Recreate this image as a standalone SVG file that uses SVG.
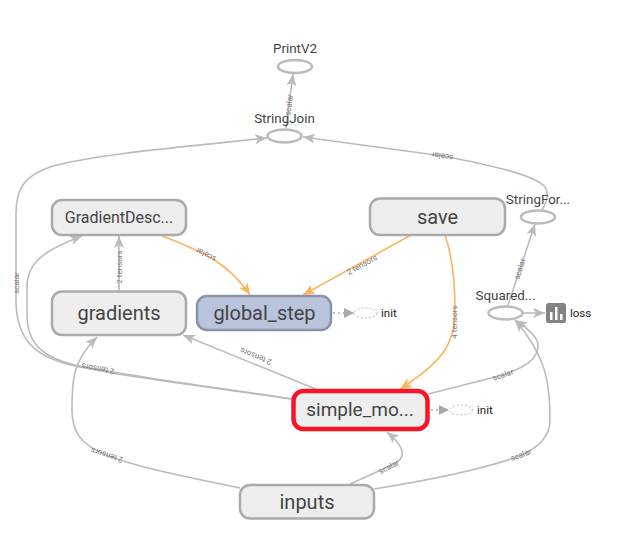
<svg xmlns="http://www.w3.org/2000/svg" width="631" height="541" viewBox="0 0 631 541">
<style>
text{font-family:Roboto,"Liberation Sans",sans-serif;fill:#444}
.box{fill:#eee;stroke:#aaa;stroke-width:2.5}
.op{fill:#fff;stroke:#bbb;stroke-width:2.5}
.e{fill:none;stroke:#bbb;stroke-width:1.6}
.o{fill:none;stroke:#fdb45c;stroke-width:1.6}
.d{fill:none;stroke:#aaa;stroke-width:1.6;stroke-dasharray:2 3}
.l{font-size:8px;fill:#777;text-anchor:middle;dominant-baseline:central}
.t{text-anchor:middle}
.s{font-size:13.400px}
.m{font-size:16px}
.b{font-size:20px}
.i{font-size:11.500px;fill:#222}
.g{fill:#fff;stroke:#bbb;stroke-width:1;stroke-dasharray:2 2}
</style>
<defs>
<marker id="ag" markerWidth="14" markerHeight="12" refX="12" refY="5" orient="auto" markerUnits="userSpaceOnUse" viewBox="0 0 14 10"><path d="M0 0L12 5L0 10L3 5Z" fill="#bbb"/></marker>
<marker id="ao" markerWidth="14" markerHeight="12" refX="12" refY="5" orient="auto" markerUnits="userSpaceOnUse" viewBox="0 0 14 10"><path d="M0 0L12 5L0 10L3 5Z" fill="#fdb45c"/></marker>
<marker id="ad" markerWidth="11" markerHeight="10" refX="10" refY="5" orient="auto" markerUnits="userSpaceOnUse" viewBox="0 0 11 10"><path d="M0 0L10 5L0 10Z" fill="#aaa"/></marker>
</defs>
<g id="connectors">
<path class="e" marker-end="url(#ag)" d="M286 128L293 74"/>
<path class="e" marker-end="url(#ag)" d="M292 399C200 386 120 376 75 366C35 357 16 340 16 300L16 213C16 185 28 175 50 167C90 155 170 148 267 138"/>
<path class="e" marker-end="url(#ag)" d="M292 399C200 385 120 375 75 365C45 358 27 345 27 315L27 287C27 262 45 250 82 236"/>
<path class="e" marker-end="url(#ag)" d="M318 390L183 335"/>
<path class="e" marker-end="url(#ag)" d="M240 488C200 479 160 473 120 460C90 450 72 440 72 410C72 380 72 362 97 337"/>
<path class="e" marker-end="url(#ag)" d="M350 484C368 476 382 470 397 462C406 456 404 446 387 432"/>
<path class="e" marker-end="url(#ag)" d="M374 489C430 480 480 470 517 457C540 448 550 435 550 420C550 380 545 355 515 320"/>
<path class="e" marker-end="url(#ag)" d="M428 394L503 375C525 367 538 360 538 345C538 338 530 330 515 320"/>
<path class="e" marker-end="url(#ag)" d="M508 305L535 224"/>
<path class="e" marker-end="url(#ag)" d="M542 210C548 200 549 193 545 187C535 175 490 165 443 156L303 137"/>
<path class="e" marker-end="url(#ag)" d="M119 291L119 236"/>
<path class="o" marker-end="url(#ao)" d="M162 236C205 252 230 265 250 295"/>
<path class="o" marker-end="url(#ao)" d="M411 235L303 295"/>
<path class="o" marker-end="url(#ao)" d="M445 235C453 258 455 285 455 310C455 345 442 362 400 389"/>
<path class="e" marker-end="url(#ag)" d="M523 313L545 313"/>
<path class="d" marker-end="url(#ad)" d="M333 313L354 313"/>
<path class="d" marker-end="url(#ad)" d="M431 410L449 410"/>
<text class="l" transform="translate(289 105) rotate(-83)">scalar</text>
<text class="l" transform="translate(442.500 156) rotate(189)">scalar</text>
<text class="l" transform="translate(16 283) rotate(-90)">scalar</text>
<text class="l" transform="translate(98 368.500) rotate(190)">2 tensors</text>
<text class="l" transform="translate(256 356) rotate(202)">2 tensors</text>
<text class="l" transform="translate(107 455) rotate(198)">2 tensors</text>
<text class="l" transform="translate(119 267) rotate(-90)">2 tensors</text>
<text class="l" transform="translate(206 254.500) rotate(207)">scalar</text>
<text class="l" transform="translate(362 265) rotate(-29)">2 tensors</text>
<text class="l" transform="translate(454.500 322) rotate(-90)">4 tensors</text>
<text class="l" transform="translate(503 375) rotate(-18)">scalar</text>
<text class="l" transform="translate(389 467) rotate(-27)">scalar</text>
<text class="l" transform="translate(521 455) rotate(-20)">scalar</text>
<text class="l" transform="translate(520 269) rotate(-72)">scalar</text>
</g>
<g id="PrintV2"><ellipse class="op" cx="295" cy="66.500" rx="17" ry="6.500"/><text class="t s" x="295" y="53">PrintV2</text></g>
<g id="StringJoin"><ellipse class="op" cx="284.500" cy="136" rx="17" ry="6.500"/><text class="t s" x="284.500" y="123">StringJoin</text></g>
<g id="StringFormat"><ellipse class="op" cx="538" cy="217" rx="17" ry="6.500"/><text class="t s" x="538" y="204">StringFor...</text></g>
<g id="Squared"><ellipse class="op" cx="505.500" cy="313" rx="17" ry="6.500"/><text class="t s" x="505.500" y="300">Squared...</text></g>
<g id="GradientDescent"><rect class="box" x="52" y="200" width="134" height="35" rx="10"/><text class="t m" x="119" y="223">GradientDesc...</text></g>
<g id="gradients"><rect class="box" x="52" y="291.500" width="134" height="43.500" rx="10"/><text class="t b" x="119" y="320">gradients</text></g>
<g id="global_step"><rect x="197" y="296" width="134" height="34" rx="10" fill="#b9c4dc" stroke="#8a92a6" stroke-width="2.500"/><text class="t b" x="264.500" y="320">global_step</text></g>
<g id="save"><rect class="box" x="370" y="198.500" width="135" height="36.500" rx="10"/><text class="t b" x="437.500" y="224">save</text></g>
<g id="simple_model"><rect x="293.500" y="391" width="134" height="38" rx="10" fill="#eee" stroke="#f91329" stroke-width="4.500"/><text class="t" style="font-size:19px" x="360" y="416">simple_mo...</text></g>
<g id="inputs"><rect class="box" x="240" y="485" width="134" height="33.500" rx="10"/><text class="t b" x="307" y="509">inputs</text></g>
<g id="init1"><ellipse class="g" cx="365.500" cy="313" rx="11.500" ry="5"/><text class="i" x="381" y="317">init</text></g>
<g id="init2"><ellipse class="g" cx="461" cy="410" rx="11.500" ry="5"/><text class="i" x="477" y="414">init</text></g>
<g id="loss"><rect x="546" y="303" width="20" height="20" rx="2.500" fill="#848484"/><rect x="550" y="312" width="2.500" height="8" fill="#fff"/><rect x="555" y="307" width="2.500" height="13" fill="#fff"/><rect x="560" y="314" width="2.500" height="6" fill="#fff"/><text class="i" x="570" y="317">loss</text></g>
</svg>
